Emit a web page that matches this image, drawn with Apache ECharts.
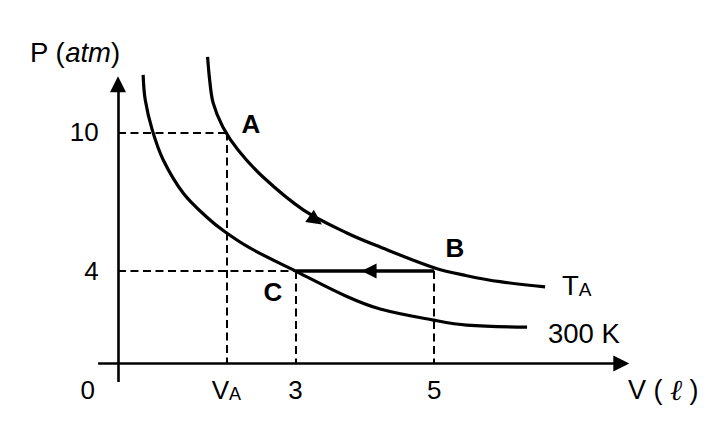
<!DOCTYPE html>
<html><head><meta charset="utf-8">
<script src="https://cdn.jsdelivr.net/npm/echarts@6/dist/echarts.min.js"></script>
<style>html,body{margin:0;padding:0;background:#fff}#c{width:722px;height:428px}</style>
</head><body><div id="c"></div>
<script>
// ---- data ----
const xTickValues = [0, 2, 3, 5];
const xTickLabels = ['0', '{v|V}{s|A}', '3', '5'];
const yTickValues = [4, 10];
const yTickLabels = ['4', '10'];
const curveTA = [[1.73,13.27],[1.76,12.27],[1.81,11.28],[1.95,10.24],[2.17,9.24],[2.53,8.07],[3.11,6.65],[3.74,5.65],[4.22,5.04],[5.02,4.12],[5.47,3.8],[5.95,3.54],[6.6,3.32]];
const curve300 = [[0.80,12.49],[0.83,11.41],[0.93,10.12],[1.09,8.81],[1.38,7.37],[1.72,6.33],[1.98,5.70],[2.34,5.0],[3.0,4.0],[3.74,2.9],[4.22,2.36],[4.99,1.88],[5.47,1.66],[6.34,1.57]];
const pointA = [2, 10];
const pointB = [5, 4];
const pointC = [3, 4];
const yAxisAt = 0.437;          // V where the drawn P axis sits
const xAxisSpan = [0.15, 7.7];  // drawn V axis extent
const yAxisSpan = [-0.8, 12.08];// drawn P axis extent
const bcArrowAt = 4.06;         // V of arrow on B->C
const curveArrow = [[3.05, 6.70], [3.29, 6.20]];

const FONT = 'Liberation Sans, Arial, sans-serif';
const BLACK = '#000';

const chart = echarts.init(document.getElementById('c'), null, {renderer: 'svg'});

const guides = [
  [[yAxisAt, pointA[1]], pointA],
  [pointA, [pointA[0], 0]],
  [[yAxisAt, pointC[1]], pointC],
  [pointC, [pointC[0], 0]],
  [pointB, [pointB[0], 0]]
].map(c => ({coords: c}));

const option = {
  backgroundColor: '#fff',
  animation: false,
  grid: {left: 87.7, right: 79.9, top: 40, bottom: 64.5},
  xAxis: {
    type: 'value', min: 0, max: 8, interval: 1,
    axisLine: {show: false}, axisTick: {show: false}, splitLine: {show: false},
    axisLabel: {
      margin: 13, color: BLACK, fontSize: 26, fontFamily: FONT, lineHeight: 26,
      formatter: v => { const i = xTickValues.indexOf(v); return i < 0 ? '' : xTickLabels[i]; },
      rich: {
        v: {fontSize: 26, lineHeight: 26, fontFamily: FONT, color: BLACK},
        s: {fontSize: 18, lineHeight: 18, fontFamily: FONT, color: BLACK, verticalAlign: 'bottom'}
      }
    }
  },
  yAxis: {
    type: 'value', min: 0, max: 14, interval: 1, offset: -31,
    axisLine: {show: false}, axisTick: {show: false}, splitLine: {show: false},
    axisLabel: {
      margin: 20, color: BLACK, fontSize: 26, fontFamily: FONT,
      formatter: v => { const i = yTickValues.indexOf(v); return i < 0 ? '' : yTickLabels[i]; }
    }
  },
  series: [
    {type: 'line', data: curveTA, smooth: 0.35, showSymbol: false, clip: false,
     lineStyle: {color: BLACK, width: 3.2}},
    {type: 'line', data: curve300, smooth: 0.35, showSymbol: false, clip: false,
     lineStyle: {color: BLACK, width: 3.2}},
    {type: 'lines', coordinateSystem: 'cartesian2d', clip: false, symbol: ['none', 'none'],
     lineStyle: {color: BLACK, width: 2, type: [8, 4.5], opacity: 1}, data: guides},
    {type: 'lines', coordinateSystem: 'cartesian2d', clip: false, symbol: ['none', 'none'],
     lineStyle: {color: BLACK, width: 3.5, opacity: 1}, data: [{coords: [pointC, pointB]}]},
    {type: 'lines', coordinateSystem: 'cartesian2d', clip: false, symbol: ['none', 'triangle'], symbolSize: 16,
     lineStyle: {color: BLACK, width: 2.6, opacity: 1},
     data: [
       {coords: [[yAxisAt, yAxisSpan[0]], [yAxisAt, yAxisSpan[1]]]},
       {coords: [[xAxisSpan[0], 0], [xAxisSpan[1], 0]]}
     ]},
    {type: 'lines', coordinateSystem: 'cartesian2d', clip: false, symbol: ['none', 'triangle'], symbolSize: 15,
     lineStyle: {color: BLACK, width: 0, opacity: 1},
     data: [
       {coords: [pointB, [bcArrowAt, pointB[1]]]},
       {coords: curveArrow}
     ]}
  ],
  graphic: [
    {type: 'text', x: 30, y: 52, style: {text: '{n|P (}{i|atm}{n|)}', verticalAlign: 'middle', align: 'left',
      rich: {n: {fontSize: 27.5, fontFamily: FONT, fill: BLACK, color: BLACK},
             i: {fontSize: 27.5, fontFamily: FONT, fontStyle: 'italic', fill: BLACK, color: BLACK}}}},
    {type: 'text', x: 251, y: 124, style: {text: 'A', fontSize: 26, fontWeight: 'bold', fontFamily: FONT, fill: BLACK, align: 'center', verticalAlign: 'middle'}},
    {type: 'text', x: 455, y: 248, style: {text: 'B', fontSize: 26, fontWeight: 'bold', fontFamily: FONT, fill: BLACK, align: 'center', verticalAlign: 'middle'}},
    {type: 'text', x: 273, y: 292, style: {text: 'C', fontSize: 26, fontWeight: 'bold', fontFamily: FONT, fill: BLACK, align: 'center', verticalAlign: 'middle'}},
    {type: 'text', x: 562, y: 285, style: {text: '{n|T}{s|A}', align: 'left', verticalAlign: 'middle',
      rich: {n: {fontSize: 27.5, lineHeight: 27, fontFamily: FONT, color: BLACK},
             s: {fontSize: 19, lineHeight: 19, fontFamily: FONT, color: BLACK, verticalAlign: 'bottom'}}}},
    {type: 'text', x: 548, y: 333, style: {text: '300 K', fontSize: 27.5, fontFamily: FONT, fill: BLACK, align: 'left', verticalAlign: 'middle'}},
    {type: 'text', x: 628, y: 390, style: {text: '{n|V ( }{l|\u2113}{n| )}', align: 'left', verticalAlign: 'middle',
      rich: {n: {fontSize: 27, lineHeight: 30, fontFamily: FONT, color: BLACK},
             l: {fontSize: 29, lineHeight: 30, fontFamily: 'DejaVu Serif, serif', fontStyle: 'italic', color: BLACK}}}}
  ]
};
chart.setOption(option);
</script></body></html>
